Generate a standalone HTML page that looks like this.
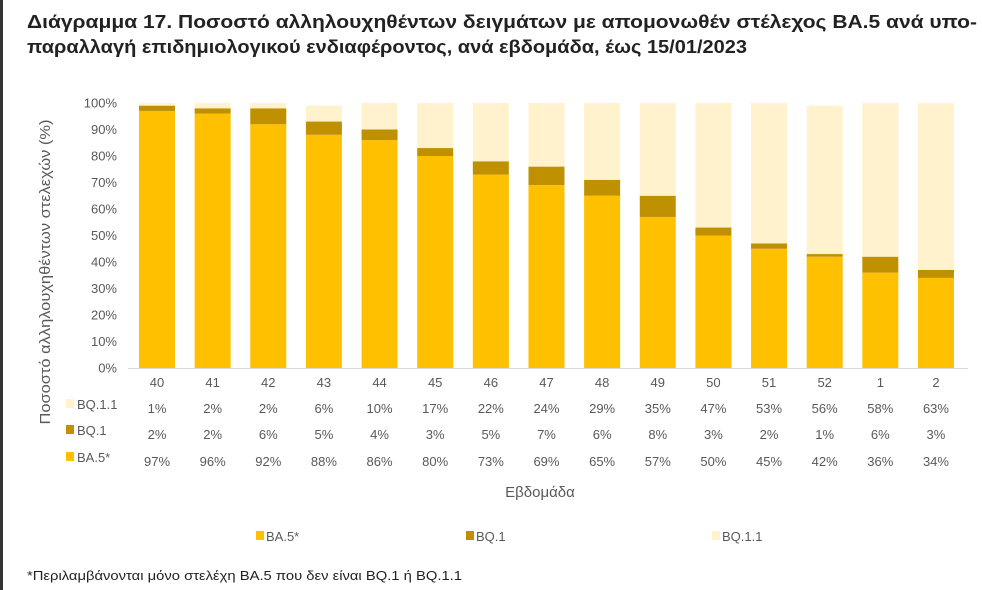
<!DOCTYPE html>
<html><head><meta charset="utf-8"><style>
html,body{margin:0;padding:0;background:#fff;}
svg{display:block;font-family:"Liberation Sans","DejaVu Sans",sans-serif;}
</style></head><body>
<svg width="982" height="590" viewBox="0 0 982 590" xmlns="http://www.w3.org/2000/svg">
<rect x="0" y="0" width="982" height="590" fill="#fff"/>
<rect x="0" y="0" width="3" height="590" fill="#333"/>
<text x="27" y="28" font-size="18" font-weight="bold" fill="#222" textLength="950" lengthAdjust="spacingAndGlyphs">Διάγραμμα 17. Ποσοστό αλληλουχηθέντων δειγμάτων με απομονωθέν στέλεχος ΒΑ.5 ανά υπο-</text>
<text x="27" y="53" font-size="18" font-weight="bold" fill="#222" textLength="720" lengthAdjust="spacingAndGlyphs">παραλλαγή επιδημιολογικού ενδιαφέροντος, ανά εβδομάδα, έως 15/01/2023</text>
<g id="yt" font-size="13" fill="#595959" text-anchor="end"></g>
<g id="bars"></g>
<line x1="128" y1="368.5" x2="968" y2="368.5" stroke="#d9d9d9" stroke-width="1"/>
<g id="tbl" font-size="13" fill="#595959" text-anchor="middle"></g>
<text transform="translate(50,272) rotate(-90)" font-size="15" fill="#595959" text-anchor="middle" textLength="305" lengthAdjust="spacingAndGlyphs">Ποσοστό αλληλουχηθέντων στελεχών (%)</text>
<text x="540" y="497" font-size="15" fill="#595959" text-anchor="middle">Εβδομάδα</text>
<rect x="256" y="531" width="8" height="9" fill="#FFC000"/>
<text x="266" y="541" font-size="13" fill="#595959">BA.5*</text>
<rect x="466" y="531" width="8" height="9" fill="#BF9000"/>
<text x="476" y="541" font-size="13" fill="#595959">BQ.1</text>
<rect x="712" y="531" width="8" height="9" fill="#FFF2CC"/>
<text x="722" y="541" font-size="13" fill="#595959">BQ.1.1</text>
<text x="27" y="580" font-size="13" fill="#222" textLength="435" lengthAdjust="spacingAndGlyphs">*Περιλαμβάνονται μόνο στελέχη ΒΑ.5 που δεν είναι BQ.1 ή BQ.1.1</text>
<script>
var ns="http://www.w3.org/2000/svg";
function el(p,t,a,txt){var e=document.createElementNS(ns,t);for(var k in a)e.setAttribute(k,a[k]);if(txt!==undefined)e.textContent=txt;p.appendChild(e);return e;}
var yt=document.getElementById('yt');
for(var i=0;i<=10;i++){var y=368-i*26.5;el(yt,'text',{x:117,y:y+4.5},(i*10)+'%');}
var wk=[40,41,42,43,44,45,46,47,48,49,50,51,52,1,2];
var q11=[1,2,2,6,10,17,22,24,29,35,47,53,56,58,63];
var q1=[2,2,6,5,4,3,5,7,6,8,3,2,1,6,3];
var b5=[97,96,92,88,86,80,73,69,65,57,50,45,42,36,34];
var g=document.getElementById('bars'),t=document.getElementById('tbl');
var s=2.65;
for(var i=0;i<15;i++){
 var cx=157+i*55.64,x=cx-18,y0=368;
 var h=b5[i]*s; el(g,'rect',{x:x,y:y0-h,width:36,height:h,fill:'#FFC000'}); y0-=h;
 h=q1[i]*s; el(g,'rect',{x:x,y:y0-h,width:36,height:h,fill:'#BF9000'}); y0-=h;
 h=q11[i]*s; el(g,'rect',{x:x,y:y0-h,width:36,height:h,fill:'#FFF2CC'});
 el(t,'text',{x:cx,y:387},wk[i]);
 el(t,'text',{x:cx,y:413},q11[i]+'%');
 el(t,'text',{x:cx,y:439},q1[i]+'%');
 el(t,'text',{x:cx,y:466},b5[i]+'%');
}
var lg=[[408,'#FFF2CC','BQ.1.1'],[434,'#BF9000','BQ.1'],[461,'#FFC000','BA.5*']];
lg.forEach(function(r){el(t,'rect',{x:66,y:r[0]-9,width:8,height:9,fill:r[1]});el(t,'text',{x:77,y:r[0]+1,'text-anchor':'start'},r[2]);});
</script>
</svg>
</body></html>
